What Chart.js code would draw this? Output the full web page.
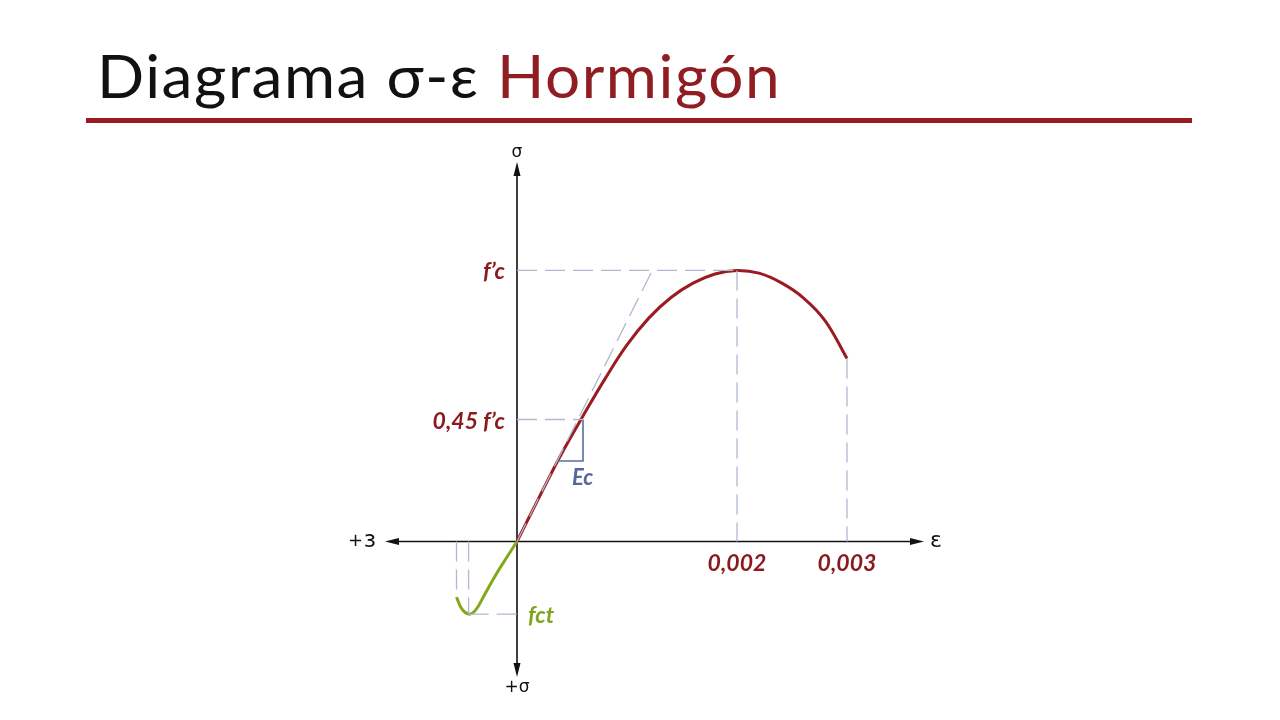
<!DOCTYPE html>
<html>
<head>
<meta charset="utf-8">
<script src="https://cdn.jsdelivr.net/npm/chart.js@4.4.1/dist/chart.umd.min.js"></script>
<style>
  html, body { margin: 0; padding: 0; background: #fff; width: 1280px; height: 720px; overflow: hidden; }
  #title { position: absolute; left: 97px; top: 39px; font-family: Lato, sans-serif; font-weight: 400; font-size: 60px; line-height: 72px; letter-spacing: 1.5px; color: #111; white-space: nowrap; transform: scaleX(1.035); transform-origin: left center; }
  #title .red { color: #8f1d21; }
  #rule { position: absolute; left: 86px; top: 118px; width: 1106px; height: 5px; background: #9b1c20; }
  #chart { position: absolute; left: 0; top: 0; }
</style>
</head>
<body>
<div id="title">Diagrama σ-ε <span class="red">Hormigón</span></div>
<div id="rule"></div>
<canvas id="chart" width="1280" height="720"></canvas>
<script>
// compression branch (strain, stress / f'c)
const compStrain = [0, 0.0002, 0.0004, 0.0006, 0.0008, 0.001, 0.0012, 0.0014, 0.0016, 0.0018, 0.002, 0.0022, 0.0024, 0.0026, 0.0028, 0.003];
const compStress = [0, 0.162, 0.32, 0.463, 0.6, 0.725, 0.825, 0.9, 0.953, 0.987, 1.0, 0.99, 0.955, 0.9, 0.815, 0.675];

// tension branch (drawn below the axis)
const tensStrain = [-0.00055, -0.0005, -0.00044, -0.00038, -0.0003, -0.0002, -0.0001, 0];
const tensStress = [-0.205, -0.25, -0.268, -0.255, -0.2, -0.128, -0.063, 0];

// reference values
const fcPeakStrain = 0.002;
const ultimateStrain = 0.003;
const ultimateStress = 0.675;
const serviceStress = 0.45;
const ecTopStrain = 0.0006;
const ecLeftStrain = 0.00036;
const ecBottomStress = 0.297;
const tangentStrain = 0.00123;
const fctStrain = -0.00044;
const fctStress = -0.268;
const tensEndStrain = -0.00055;
const tensEndStress = -0.205;

const strainTicks = ['0,002', '0,003'];

const guideColor = '#afb9cf';
const dark = '#8b1a1f';

const toPts = (xs, ys) => xs.map((x, i) => ({ x: x, y: ys[i] }));

const guide = (pts) => ({
    data: pts,
    borderColor: guideColor,
    borderWidth: 1.3,
    borderDash: [20, 8],
    pointRadius: 0,
    tension: 0,
    fill: false
});

const datasets = [
    guide([{ x: 0, y: 1 }, { x: fcPeakStrain, y: 1 }]),
    guide([{ x: fcPeakStrain, y: 1 }, { x: fcPeakStrain, y: 0 }]),
    guide([{ x: ultimateStrain, y: ultimateStress }, { x: ultimateStrain, y: 0 }]),
    guide([{ x: 0, y: serviceStress }, { x: ecTopStrain, y: serviceStress }]),
    guide([{ x: 0, y: 0 }, { x: tangentStrain, y: 1 }]),
    guide([{ x: tensEndStrain, y: 0 }, { x: tensEndStrain, y: tensEndStress }]),
    guide([{ x: fctStrain, y: 0 }, { x: fctStrain, y: fctStress }]),
    guide([{ x: fctStrain, y: fctStress }, { x: 0, y: fctStress }]),
    {
        data: [{ x: ecLeftStrain, y: ecBottomStress }, { x: ecTopStrain, y: ecBottomStress }, { x: ecTopStrain, y: serviceStress }],
        borderColor: '#5a6ca3',
        borderWidth: 1.6,
        pointRadius: 0,
        tension: 0,
        fill: false
    },
    {
        data: toPts(compStrain, compStress),
        borderColor: '#9b1c20',
        borderWidth: 3,
        pointRadius: 0,
        tension: 0.4,
        fill: false
    },
    {
        data: toPts(tensStrain, tensStress),
        borderColor: '#84a81c',
        borderWidth: 3,
        pointRadius: 0,
        tension: 0.4,
        fill: false
    }
];

const arrow = (ctx, x, y, dx, dy) => {
    const len = 14, half = 3.5;
    const px = -dy, py = dx;
    ctx.beginPath();
    ctx.moveTo(x, y);
    ctx.lineTo(x - dx * len + px * half, y - dy * len + py * half);
    ctx.lineTo(x - dx * len - px * half, y - dy * len - py * half);
    ctx.closePath();
    ctx.fill();
};

const axesPlugin = {
    id: 'axes',
    beforeDatasetsDraw(chart) {
        const { ctx, chartArea: a, scales } = chart;
        const ox = scales.x.getPixelForValue(0);
        const oy = scales.y.getPixelForValue(0);
        ctx.save();
        ctx.strokeStyle = '#111';
        ctx.fillStyle = '#111';
        ctx.lineWidth = 1.6;
        ctx.beginPath();
        ctx.moveTo(a.left + 6, oy);
        ctx.lineTo(a.right - 6, oy);
        ctx.moveTo(ox, a.top + 6);
        ctx.lineTo(ox, a.bottom - 6);
        ctx.stroke();
        arrow(ctx, a.right, oy, 1, 0);
        arrow(ctx, a.left, oy, -1, 0);
        arrow(ctx, ox, a.top, 0, -1);
        arrow(ctx, ox, a.bottom, 0, 1);
        ctx.restore();
    },
    afterDraw(chart) {
        const { ctx, chartArea: a, scales } = chart;
        const X = v => scales.x.getPixelForValue(v);
        const Y = v => scales.y.getPixelForValue(v);
        const ox = X(0), oy = Y(0);
        const label = (txt, x, y, font, color, align, base) => {
            ctx.font = font;
            ctx.fillStyle = color;
            ctx.textAlign = align;
            ctx.textBaseline = base || 'middle';
            ctx.fillText(txt, x, y);
        };
        ctx.save();
        const plain = '17px "DejaVu Sans", sans-serif';
        label('σ', ox, a.top - 9, plain, '#111', 'center');
        label('+σ', ox, a.bottom + 11, plain, '#111', 'center');
        label('ε', a.right + 6, oy, '22px "DejaVu Sans", sans-serif', '#111', 'left');
        label('ɜ', a.left - 9, oy, '23px "DejaVu Sans", sans-serif', '#111', 'right');
        label('+', a.left - 22, oy, '18px "DejaVu Sans", sans-serif', '#111', 'right');

        const bi = 'italic 700 23px Lato, sans-serif';
        label('f’c', ox - 12, Y(1) + 1, bi, dark, 'right');
        label('0,45 f’c', ox - 12, Y(serviceStress) + 2, bi, dark, 'right');
        label(strainTicks[0], X(fcPeakStrain), oy + 22, bi, dark, 'center');
        label(strainTicks[1], X(ultimateStrain), oy + 22, bi, dark, 'center');
        label('Ec', X(ecLeftStrain + 0.00014), Y(ecBottomStress) + 17, 'italic 700 22px Lato, sans-serif', '#55679d', 'left');
        label('fct', ox + 11, Y(fctStress) + 1, bi, '#7fa31a', 'left');
        ctx.restore();
    }
};

new Chart(document.getElementById('chart'), {
    type: 'line',
    data: { datasets: datasets },
    options: {
        responsive: false,
        animation: false,
        clip: false,
        layout: { padding: { left: 385, right: 356, top: 162, bottom: 43 } },
        scales: {
            x: { type: 'linear', min: -0.0012, max: 0.0037, display: false },
            y: { type: 'linear', min: -0.5, max: 1.4, display: false }
        },
        plugins: { legend: { display: false }, tooltip: { enabled: false } }
    },
    plugins: [axesPlugin]
});
</script>
</body>
</html>
